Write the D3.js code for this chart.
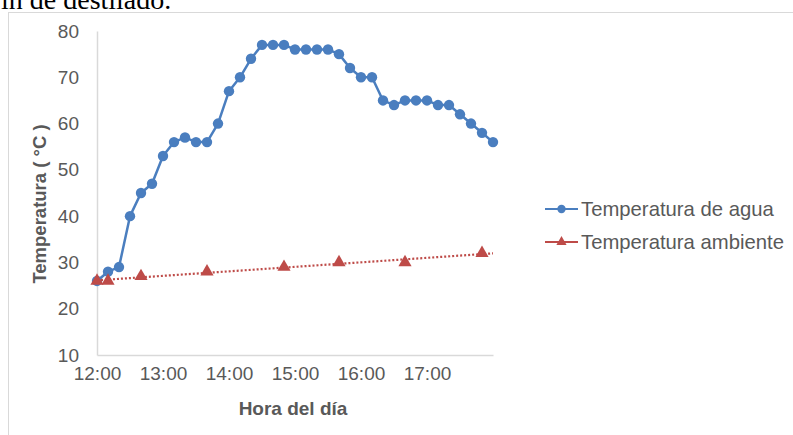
<!DOCTYPE html>
<html>
<head>
<meta charset="utf-8">
<script src="https://cdn.jsdelivr.net/npm/d3@7"></script>
<style>
  html, body { margin: 0; padding: 0; background: #ffffff; overflow: hidden; }
  svg { display: block; }
</style>
</head>
<body>
<svg id="chart" width="793" height="435"></svg>
<script>
// ---- Data ----
const waterTimes = ["12:00","12:10","12:20","12:30","12:40","12:50","13:00","13:10","13:20","13:30","13:40","13:50",
  "14:00","14:10","14:20","14:30","14:40","14:50","15:00","15:10","15:20","15:30","15:40","15:50",
  "16:00","16:10","16:20","16:30","16:40","16:50","17:00","17:10","17:20","17:30","17:40","17:50","18:00"];
const waterTemps = [26,28,29,40,45,47,53,56,57,56,56,60,
  67,70,74,77,77,77,76,76,76,76,75,72,
  70,70,65,64,65,65,65,64,64,62,60,58,56];
const ambientTimes = ["12:00","12:10","12:40","13:40","14:50","15:40","16:40","17:50"];
const ambientTemps = [26,26,27,28,29,30,30,32];
const xTickLabels = ["12:00","13:00","14:00","15:00","16:00","17:00"];
const xDomain = ["12:00","18:00"];
const yTicks = [10,20,30,40,50,60,70,80];
const seriesNames = ["Temperatura de agua","Temperatura ambiente"];

// ---- Setup ----
const parse = d3.timeParse("%H:%M");
const svg = d3.select("#chart");
const W = 793, H = 435;
const plot = {left: 97, right: 493, top: 31, bottom: 355};
const blue = "#4A7EBF", red = "#BE4B48", textCol = "#595959", axisCol = "#D9D9D9";
const font = "'Liberation Sans', Arial, sans-serif";

// caption text fragment above the chart (cut off at the top, as in the source image)
svg.append("text").attr("x", 1).attr("y", 9)
  .attr("font-family", "'Liberation Serif', 'Times New Roman', serif")
  .attr("font-size", 28).attr("fill", "#000").text("ın de destilado.");

// chart frame
svg.append("rect").attr("x", 8.5).attr("y", 12.5).attr("width", W).attr("height", H)
  .attr("fill", "#fff").attr("stroke", axisCol).attr("stroke-width", 1);

const x = d3.scaleTime().domain(xDomain.map(parse)).range([plot.left, plot.right]);
const y = d3.scaleLinear().domain([10, 80]).range([plot.bottom, plot.top]);

// axes
const yAxis = d3.axisLeft(y).tickValues(yTicks).tickSize(0).tickPadding(18);
const gy = svg.append("g").attr("transform", `translate(${plot.left},0)`).call(yAxis);
gy.select(".domain").attr("stroke", axisCol).attr("stroke-width", 1.5);
gy.selectAll("text").attr("font-family", font).attr("font-size", 19).attr("fill", textCol);

const xAxis = d3.axisBottom(x).tickValues(xTickLabels.map(parse)).tickFormat(d3.timeFormat("%H:%M")).tickSize(0).tickPadding(12);
const gx = svg.append("g").attr("transform", `translate(0,${plot.bottom})`).call(xAxis);
gx.select(".domain").attr("stroke", axisCol).attr("stroke-width", 1.5);
gx.selectAll("text").attr("font-family", font).attr("font-size", 19).attr("fill", textCol);

// axis titles
svg.append("text").attr("transform", `translate(46,${(plot.top+plot.bottom)/2 + 11}) rotate(-90)`)
  .attr("text-anchor", "middle").attr("font-family", font).attr("font-size", 18.5)
  .attr("font-weight", "bold").attr("fill", textCol).text("Temperatura ( °C )");
svg.append("text").attr("x", 293).attr("y", 415)
  .attr("text-anchor", "middle").attr("font-family", font).attr("font-size", 19)
  .attr("font-weight", "bold").attr("fill", textCol).text("Hora del día");

// water series
const water = waterTimes.map((t, i) => ({t: parse(t), v: waterTemps[i]}));
const line = d3.line().x(d => x(d.t)).y(d => y(d.v));
svg.append("path").datum(water).attr("d", line).attr("fill", "none")
  .attr("stroke", blue).attr("stroke-width", 2.5).attr("stroke-linejoin", "round");
svg.append("g").selectAll("circle").data(water).join("circle")
  .attr("cx", d => x(d.t)).attr("cy", d => y(d.v)).attr("r", 5.2).attr("fill", blue);

// ambient series: dotted linear trend through markers
const amb = ambientTimes.map((t, i) => ({t: parse(t), v: ambientTemps[i]}));
const xs = amb.map(d => (d.t - parse(xDomain[0])) / 3.6e6), ys = amb.map(d => d.v);
const mx = d3.mean(xs), my = d3.mean(ys);
const slope = d3.sum(xs.map((v, i) => (v - mx) * (ys[i] - my))) / d3.sum(xs.map(v => (v - mx) ** 2));
const icpt = my - slope * mx;
const trendPts = xDomain.map(parse).map(t => ({t, v: icpt + slope * ((t - parse(xDomain[0])) / 3.6e6)}));
svg.append("path").datum(trendPts).attr("d", line).attr("fill", "none")
  .attr("stroke", red).attr("stroke-width", 2.2).attr("stroke-dasharray", "2,2");
const tri = d3.symbol().type(d3.symbolTriangle).size(75);
svg.append("g").selectAll("path").data(amb).join("path")
  .attr("d", tri).attr("transform", d => `translate(${x(d.t)},${y(d.v)})`).attr("fill", red);

// legend
const lg = svg.append("g");
const legY = [209, 242];
[blue, red].forEach((c, i) => {
  lg.append("line").attr("x1", 545).attr("x2", 578).attr("y1", legY[i]).attr("y2", legY[i])
    .attr("stroke", c).attr("stroke-width", 2.2);
  if (i === 0) lg.append("circle").attr("cx", 561.5).attr("cy", legY[i]).attr("r", 4.2).attr("fill", c);
  else lg.append("path").attr("d", d3.symbol().type(d3.symbolTriangle).size(45)).attr("transform", `translate(561.5,${legY[i]})`).attr("fill", c);
  lg.append("text").attr("x", 581).attr("y", legY[i]).attr("dy", "0.35em")
    .attr("font-family", font).attr("font-size", 20.3).attr("fill", textCol).text(seriesNames[i]);
});
</script>
</body>
</html>
